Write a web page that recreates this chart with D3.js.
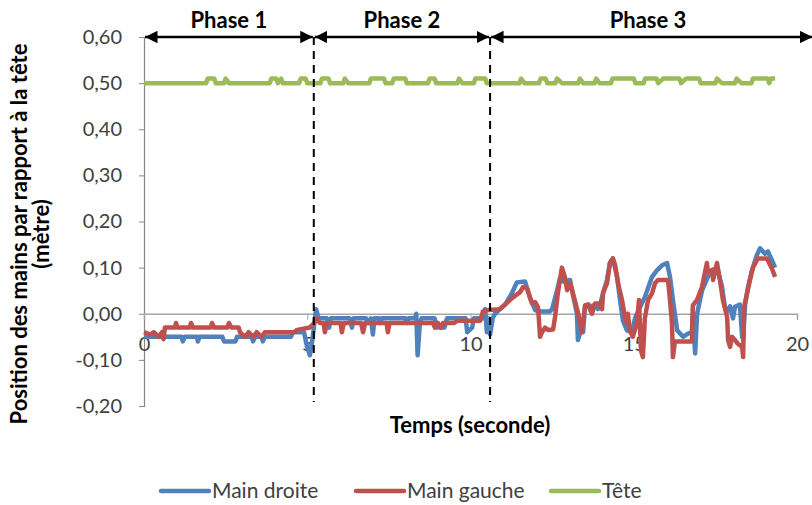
<!DOCTYPE html>
<html>
<head>
<meta charset="utf-8">
<script src="https://cdn.jsdelivr.net/npm/d3@7"></script>
<style>
  body { margin: 0; background: #fff; }
  svg text { font-family: Lato, "Open Sans", sans-serif; }
</style>
</head>
<body>
<svg width="812" height="505"></svg>
<script>
// time (s), position (m)
var mainDroite = [[0,-0.05],[1.15,-0.05],[1.19,-0.06],[1.25,-0.05],[1.62,-0.05],[1.65,-0.06],[1.7,-0.05],[2.4,-0.05],[2.45,-0.06],[2.8,-0.06],[2.85,-0.05],[3.3,-0.05],[3.34,-0.06],[3.4,-0.05],[3.6,-0.05],[3.64,-0.06],[3.7,-0.05],[4.5,-0.05],[4.56,-0.04],[4.9,-0.04],[4.99,-0.07],[5.08,-0.09],[5.15,-0.06],[5.27,0.01],[5.35,-0.01],[5.6,-0.01],[5.67,-0.03],[5.72,-0.01],[6.3,-0.01],[6.37,-0.03],[6.42,-0.01],[6.8,-0.01],[6.86,-0.02],[6.95,-0.01],[7.01,-0.045],[7.06,-0.01],[7.2,-0.01],[7.23,-0.02],[7.28,-0.01],[8.0,-0.01],[8.06,-0.02],[8.1,-0.01],[8.3,-0.01],[8.34,0.0],[8.38,-0.09],[8.45,-0.02],[8.5,-0.01],[8.9,-0.01],[8.97,-0.03],[9.2,-0.03],[9.28,-0.01],[9.85,-0.01],[9.9,-0.04],[10.05,-0.03],[10.1,-0.01],[10.38,-0.01],[10.45,0.01],[10.5,-0.04],[10.55,-0.01],[10.6,-0.045],[10.68,-0.01],[10.75,0.0],[10.9,0.01],[11.06,0.02],[11.27,0.045],[11.42,0.068],[11.67,0.07],[11.82,0.035],[11.98,0.008],[12.07,0.005],[12.43,0.005],[12.5,0.01],[12.65,0.05],[12.74,0.077],[12.83,0.07],[13.05,0.073],[13.14,0.04],[13.26,0.0],[13.29,-0.057],[13.41,-0.03],[13.45,-0.04],[13.51,0.018],[13.6,0.02],[13.72,0.015],[13.81,0.02],[13.9,0.01],[13.97,0.02],[14.06,0.045],[14.18,0.073],[14.27,0.11],[14.36,0.12],[14.49,0.08],[14.58,0.03],[14.67,-0.015],[14.79,-0.036],[14.94,-0.04],[15.04,-0.01],[15.19,0.014],[15.34,0.036],[15.56,0.08],[15.71,0.094],[15.87,0.105],[16.02,0.11],[16.11,0.08],[16.2,0.03],[16.33,-0.036],[16.51,-0.05],[16.66,-0.043],[16.78,-0.04],[16.81,0.0],[16.88,-0.086],[16.94,0.0],[17.09,0.05],[17.27,0.08],[17.4,0.094],[17.55,0.1],[17.7,0.06],[17.79,0.015],[17.89,0.007],[17.95,0.016],[18.04,-0.01],[18.1,0.015],[18.25,0.02],[18.32,-0.05],[18.35,-0.055],[18.41,0.02],[18.5,0.058],[18.62,0.094],[18.77,0.127],[18.87,0.142],[19.02,0.13],[19.11,0.135],[19.27,0.11],[19.33,0.1]];

var mainGauche = [[0,-0.04],[0.2,-0.045],[0.3,-0.04],[0.45,-0.05],[0.55,-0.04],[0.6,-0.055],[0.64,-0.03],[0.95,-0.03],[0.98,-0.02],[1.02,-0.03],[1.4,-0.03],[1.44,-0.02],[1.5,-0.03],[2.05,-0.03],[2.08,-0.02],[2.15,-0.03],[2.55,-0.03],[2.6,-0.02],[2.68,-0.03],[2.9,-0.03],[2.94,-0.04],[3.1,-0.05],[3.2,-0.04],[3.35,-0.05],[3.45,-0.04],[3.6,-0.05],[3.7,-0.04],[4.6,-0.04],[4.69,-0.035],[5.08,-0.03],[5.21,-0.02],[5.3,-0.01],[5.39,-0.02],[5.5,-0.02],[5.54,-0.04],[5.6,-0.02],[6.02,-0.02],[6.06,-0.04],[6.12,-0.02],[6.65,-0.02],[6.71,-0.04],[6.77,-0.02],[7.43,-0.02],[7.47,-0.04],[7.52,-0.02],[8.85,-0.02],[8.91,-0.03],[9.0,-0.02],[9.1,-0.03],[9.16,-0.02],[9.5,-0.02],[9.59,-0.015],[10.3,-0.015],[10.38,0.005],[10.54,0.008],[10.9,0.01],[11.06,0.02],[11.27,0.034],[11.52,0.047],[11.61,0.058],[11.73,0.055],[11.82,0.036],[11.88,0.023],[11.98,0.025],[12.07,0.014],[12.13,-0.05],[12.19,-0.04],[12.28,-0.03],[12.37,-0.035],[12.53,-0.034],[12.59,-0.007],[12.68,0.047],[12.8,0.1],[12.89,0.08],[12.96,0.051],[13.05,0.066],[13.14,0.044],[13.29,0.003],[13.41,-0.04],[13.51,0.018],[13.6,0.02],[13.72,0.0],[13.81,0.022],[13.97,0.022],[14.03,0.01],[14.06,0.045],[14.18,0.066],[14.27,0.11],[14.36,0.12],[14.43,0.105],[14.52,0.066],[14.64,0.03],[14.73,-0.007],[14.79,-0.02],[14.82,0.0],[14.88,-0.036],[14.97,-0.05],[15.1,-0.02],[15.16,0.03],[15.22,-0.08],[15.28,-0.094],[15.34,-0.01],[15.44,0.03],[15.56,0.044],[15.65,0.066],[15.74,0.073],[16.05,0.073],[16.11,0.03],[16.17,-0.02],[16.2,-0.094],[16.26,-0.06],[16.78,-0.06],[16.81,0.018],[16.94,0.03],[17.09,0.058],[17.24,0.11],[17.27,0.09],[17.4,0.095],[17.43,0.073],[17.55,0.11],[17.64,0.073],[17.73,0.03],[17.86,-0.007],[17.89,-0.057],[17.95,-0.072],[18.01,-0.05],[18.1,-0.057],[18.19,-0.065],[18.32,-0.072],[18.35,-0.094],[18.38,0.014],[18.47,0.044],[18.56,0.073],[18.65,0.1],[18.8,0.12],[19.08,0.12],[19.23,0.098],[19.33,0.08]];

var tete = [[0,0.5],[1.9,0.5],[1.95,0.51],[2.15,0.51],[2.2,0.5],[2.45,0.5],[2.5,0.51],[2.6,0.5],[3.85,0.5],[3.9,0.51],[4.05,0.51],[4.1,0.5],[4.2,0.51],[4.25,0.5],[4.75,0.5],[4.8,0.51],[4.95,0.51],[5.0,0.5],[5.4,0.5],[5.45,0.51],[5.65,0.51],[5.7,0.5],[6.1,0.5],[6.15,0.51],[6.25,0.5],[6.9,0.5],[6.95,0.51],[7.35,0.51],[7.4,0.5],[7.6,0.5],[7.65,0.51],[8.0,0.51],[8.05,0.5],[8.7,0.5],[8.75,0.51],[8.9,0.51],[8.95,0.5],[9.6,0.5],[9.65,0.51],[9.75,0.5],[10.1,0.5],[10.15,0.51],[10.45,0.51],[10.5,0.5],[11.5,0.5],[11.55,0.51],[11.65,0.5],[12.1,0.5],[12.15,0.51],[12.3,0.51],[12.35,0.5],[12.6,0.5],[12.65,0.51],[12.8,0.5],[13.3,0.5],[13.35,0.51],[13.45,0.5],[13.8,0.5],[13.85,0.51],[13.95,0.5],[14.3,0.5],[14.35,0.51],[15.0,0.51],[15.05,0.5],[15.3,0.5],[15.35,0.51],[15.7,0.51],[15.75,0.5],[15.9,0.51],[16.4,0.51],[16.45,0.5],[16.6,0.51],[17.0,0.51],[17.05,0.5],[17.5,0.5],[17.55,0.51],[17.7,0.5],[18.1,0.5],[18.15,0.51],[18.3,0.5],[18.6,0.5],[18.65,0.51],[19.1,0.51],[19.15,0.5],[19.2,0.51],[19.33,0.51]];

var xTicks = [0, 5, 10, 15, 20];
var yTicks = [-0.2, -0.1, 0, 0.1, 0.2, 0.3, 0.4, 0.5, 0.6];
var phaseBounds = [0, 5.2, 10.6, 20.5];
var phaseNames = ["Phase 1", "Phase 2", "Phase 3"];
var seriesNames = ["Main droite", "Main gauche", "Tête"];
var seriesColors = ["#4F81BD", "#C0504D", "#9BBB59"];

var svg = d3.select("svg");

var x = d3.scaleLinear().domain([0, 20]).range([144, 797]);
var y = d3.scaleLinear().domain([-0.2, 0.6]).range([406, 37]);

var fmt = function(d) { return d3.format(".2f")(d).replace(".", ",").replace("−", "-"); };

// y axis
var yAxis = svg.append("g")
  .attr("transform", "translate(" + x(0) + ",0)")
  .call(d3.axisLeft(y).tickValues(yTicks).tickSize(5).tickPadding(17).tickFormat(fmt));
yAxis.select(".domain").attr("stroke", "#868686").attr("stroke-width", 1.2);
yAxis.selectAll(".tick line").attr("stroke", "#868686");
yAxis.selectAll("text").attr("fill", "#404040").style("font-size", "20px");

// x axis on the zero line
var xAxis = svg.append("g")
  .attr("transform", "translate(0," + y(0) + ")")
  .call(d3.axisBottom(x).tickValues(xTicks).tickSize(6).tickPadding(17).tickFormat(d3.format("d")));
xAxis.select(".domain").attr("stroke", "#A6A6A6").attr("stroke-width", 1.5);
xAxis.selectAll(".tick line").attr("stroke", "#A6A6A6");
xAxis.selectAll("text").attr("fill", "#404040").style("font-size", "20px");

// series
var line = d3.line()
  .x(function(d) { return x(d[0]); })
  .y(function(d) { return y(d[1]); });

[mainDroite, mainGauche, tete].forEach(function(s, i) {
  svg.append("path")
    .datum(s)
    .attr("fill", "none")
    .attr("stroke", seriesColors[i])
    .attr("stroke-width", 4.5)
    .attr("stroke-linejoin", "round")
    .attr("d", line);
});

// phase separators
svg.selectAll(".sep")
  .data(phaseBounds.slice(1, 3))
  .enter().append("line")
  .attr("class", "sep")
  .attr("x1", function(d) { return x(d); })
  .attr("x2", function(d) { return x(d); })
  .attr("y1", y(0.6))
  .attr("y2", 402)
  .attr("stroke", "#000")
  .attr("stroke-width", 2)
  .attr("stroke-dasharray", "8,6");

// arrows
var defs = svg.append("defs");
defs.append("marker")
  .attr("id", "ah")
  .attr("viewBox", "0 0 10 10")
  .attr("refX", 10).attr("refY", 5)
  .attr("markerWidth", 5).attr("markerHeight", 5)
  .attr("markerUnits", "strokeWidth")
  .attr("orient", "auto-start-reverse")
  .append("path")
  .attr("d", "M0,0L10,5L0,10z")
  .attr("fill", "#000");

var phases = phaseNames.map(function(n, i) { return { name: n, a: phaseBounds[i], b: phaseBounds[i + 1] }; });

svg.selectAll(".arr")
  .data(phases)
  .enter().append("line")
  .attr("class", "arr")
  .attr("x1", function(d) { return x(d.a) + 1; })
  .attr("x2", function(d) { return x(d.b) - 1; })
  .attr("y1", y(0.6))
  .attr("y2", y(0.6))
  .attr("stroke", "#000")
  .attr("stroke-width", 2.5)
  .attr("marker-start", "url(#ah)")
  .attr("marker-end", "url(#ah)");

svg.selectAll(".ph")
  .data(phases)
  .enter().append("text")
  .attr("class", "ph")
  .attr("x", function(d) { return (x(d.a) + Math.min(x(d.b), 812)) / 2 - (d.b > 20 ? 3 : 0); })
  .attr("y", 28)
  .attr("text-anchor", "middle")
  .style("font-size", "22px")
  .style("font-weight", "bold")
  .text(function(d) { return d.name; });

// axis titles
var yt = svg.append("text")
  .attr("transform", "translate(27,234) rotate(-90)")
  .attr("text-anchor", "middle")
  .style("font-size", "22px")
  .style("font-weight", "bold");
yt.append("tspan").attr("x", 0).attr("dy", 0).text("Position des mains par rapport à la tête");
yt.append("tspan").attr("x", 0).attr("dy", 22).text("(mètre)");

svg.append("text")
  .attr("x", 470)
  .attr("y", 433)
  .attr("text-anchor", "middle")
  .style("font-size", "22px")
  .style("font-weight", "bold")
  .text("Temps (seconde)");

// legend
var legX = [161, 356, 551];
var leg = svg.selectAll(".leg")
  .data(seriesNames)
  .enter().append("g")
  .attr("class", "leg")
  .attr("transform", function(d, i) { return "translate(" + legX[i] + ",491)"; });
leg.append("line")
  .attr("x1", 0).attr("x2", 48)
  .attr("stroke", function(d, i) { return seriesColors[i]; })
  .attr("stroke-width", 4.5)
  .attr("stroke-linecap", "round");
leg.append("text")
  .attr("x", 51)
  .attr("y", 7)
  .style("font-size", "21px")
  .attr("fill", "#404040")
  .text(function(d) { return d; });
</script>
</body>
</html>
